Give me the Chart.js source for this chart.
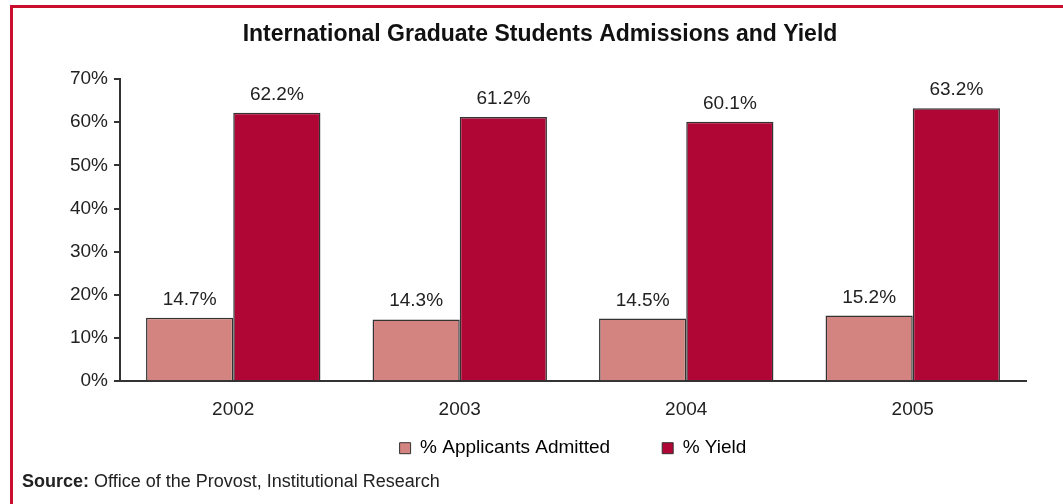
<!DOCTYPE html>
<html>
<head>
<meta charset="utf-8">
<script src="https://cdn.jsdelivr.net/npm/chart.js@4"></script>
<style>
  html, body { margin: 0; padding: 0; background: #fff; }
  #wrap { position: relative; width: 1063px; height: 504px; overflow: hidden; font-family: 'Liberation Sans', Arial, sans-serif; }
  #frame { position: absolute; left: 10px; top: 5px; width: 1100px; height: 600px; border-top: 3px solid #C8102E; border-left: 3px solid #C8102E; }
  #c { position: absolute; left: 0; top: 0; }
  #src { position: absolute; left: 22px; top: 471px; font-size: 18px; line-height: 20px; color: #222; }
</style>
</head>
<body>
<div id="wrap">
  <div id="frame"></div>
  <canvas id="c" width="1063" height="504"></canvas>
  <div id="src"><b>Source:</b> Office of the Provost, Institutional Research</div>
</div>
<script>
const categories = ['2002', '2003', '2004', '2005'];
const admitted = [14.7, 14.3, 14.5, 15.2];
const yieldPct = [62.2, 61.2, 60.1, 63.2];
const seriesNames = ['% Applicants Admitted', '% Yield'];
const yTicks = [0, 10, 20, 30, 40, 50, 60, 70];

const FONT = "'Liberation Sans', Arial, sans-serif";

const valueLabels = {
  id: 'valueLabels',
  afterDatasetsDraw(chart) {
    const ctx = chart.ctx;
    ctx.save();
    ctx.font = '19px ' + FONT;
    ctx.fillStyle = '#222';
    ctx.textAlign = 'center';
    ctx.textBaseline = 'alphabetic';
    chart.data.datasets.forEach((ds, i) => {
      const meta = chart.getDatasetMeta(i);
      meta.data.forEach((bar, j) => {
        ctx.fillText(ds.data[j].toFixed(1) + '%', bar.x, bar.y - 13);
      });
    });
    ctx.restore();
  }
};

// centre the legend under the plot area, just below the year labels; centre title on the page
const boxPlacer = {
  id: 'boxPlacer',
  afterLayout(chart) {
    const lg = chart.legend, ca = chart.chartArea;
    if (lg) {
      const h = lg.height;
      lg.left = ca.left; lg.right = ca.right; lg.width = ca.right - ca.left;
      lg.top = ca.bottom + 5.5; lg.bottom = lg.top + h;
    }
    const tb = chart.titleBlock;
    if (tb) {
      tb.left = 27; tb.right = 1053; tb.width = tb.right - tb.left;
      tb.top += 2; tb.bottom += 2;
    }
  }
};

new Chart(document.getElementById('c'), {
  type: 'bar',
  data: {
    labels: categories,
    datasets: [
      { label: seriesNames[0], data: admitted, backgroundColor: '#D48480', borderColor: '#333', borderWidth: 1.5 },
      { label: seriesNames[1], data: yieldPct, backgroundColor: '#B00636', borderColor: '#333', borderWidth: 1.5 }
    ]
  },
  options: {
    responsive: false,
    animation: false,
    devicePixelRatio: 1,
    layout: { padding: { left: 0, right: 37, top: 0, bottom: -15 } },
    datasets: { bar: { categoryPercentage: 0.77, barPercentage: 1.0 } },
    plugins: {
      title: {
        display: true,
        text: 'International Graduate Students Admissions and Yield',
        color: '#111',
        font: { family: FONT, size: 23, weight: 'bold' },
        padding: { top: 19, bottom: 32.4 }
      },
      legend: {
        position: 'bottom',
        labels: {
          color: '#222',
          font: { family: FONT, size: 19 },
          boxWidth: 11,
          boxHeight: 11,
          padding: 52,
          generateLabels(chart) {
            return chart.data.datasets.map((ds, i) => ({
              text: ds.label,
              fillStyle: ds.backgroundColor,
              strokeStyle: '#333',
              lineWidth: 1,
              datasetIndex: i
            }));
          }
        }
      },
      tooltip: { enabled: false }
    },
    scales: {
      x: {
        grid: { display: false, drawTicks: false },
        border: { display: true, color: '#333', width: 2 },
        ticks: { color: '#222', font: { family: FONT, size: 19 }, padding: 17 }
      },
      y: {
        min: 0,
        max: 70,
        afterBuildTicks(scale) { scale.ticks = yTicks.map(v => ({ value: v })); },
        afterFit(scale) { scale.width = 120; },
        grid: { display: true, drawOnChartArea: false, drawTicks: true, tickLength: 6, color: '#333', lineWidth: 2 },
        border: { display: true, color: '#333', width: 2 },
        ticks: { color: '#222', font: { family: FONT, size: 19 }, padding: 6, callback: v => v + '%' }
      }
    }
  },
  plugins: [valueLabels, boxPlacer]
});
</script>
</body>
</html>
